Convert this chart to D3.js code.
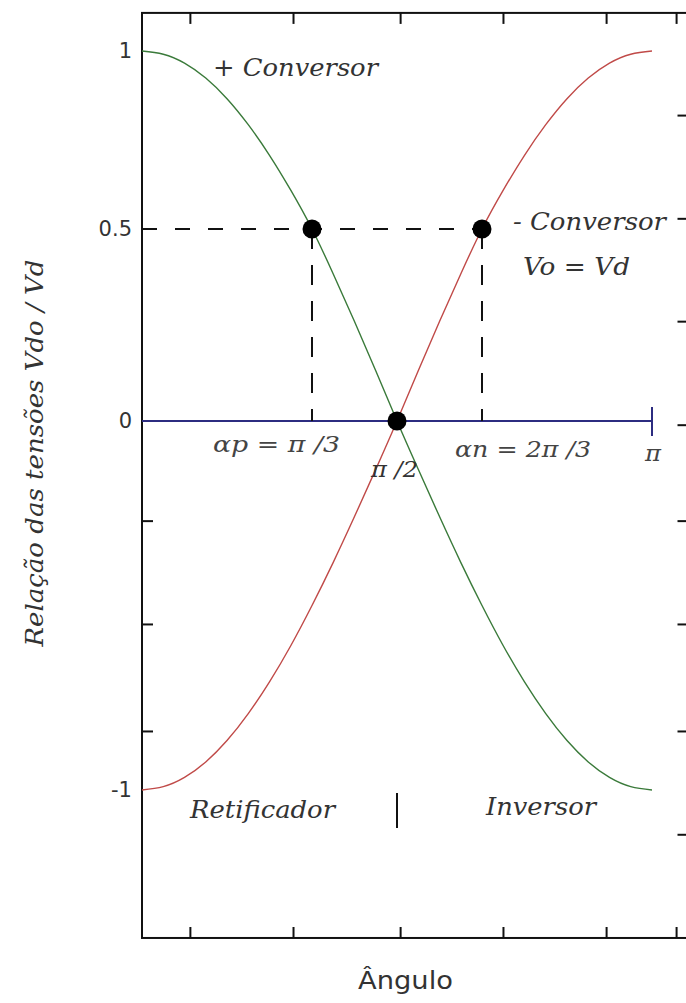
<!DOCTYPE html>
<html>
<head>
<meta charset="utf-8">
<script src="https://cdn.jsdelivr.net/npm/d3@7"></script>
<style>
  html, body { margin: 0; padding: 0; background: #fff; }
  svg { display: block; }
</style>
</head>
<body>
<svg id="chart" width="686" height="1003"></svg>
<script>
// Firing angle samples (degrees, 0..180) and the normalised converter voltages
const angleDeg = [0, 7.5, 15, 22.5, 30, 37.5, 45, 52.5, 60, 67.5, 75, 82.5, 90,
                  97.5, 105, 112.5, 120, 127.5, 135, 142.5, 150, 157.5, 165, 172.5, 180];
const positiveConverter = [1.000, 0.991, 0.966, 0.924, 0.866, 0.793, 0.707, 0.609, 0.500, 0.383, 0.259, 0.131, 0.000,
                           -0.131, -0.259, -0.383, -0.500, -0.609, -0.707, -0.793, -0.866, -0.924, -0.966, -0.991, -1.000];
const negativeConverter = [-1.000, -0.991, -0.966, -0.924, -0.866, -0.793, -0.707, -0.609, -0.500, -0.383, -0.259, -0.131, 0.000,
                           0.131, 0.259, 0.383, 0.500, 0.609, 0.707, 0.793, 0.866, 0.924, 0.966, 0.991, 1.000];

// Operating points: αp, π/2, αn
const pointAngles = [60, 90, 120];
const pointValues = [0.5, 0, 0.5];

// Axis labels and frame ticks
const yTickValues = [1, 0.5, 0, -1];
const yTickLabels = ["1", "0.5", "0", "-1"];
const frameTicksX = [16.9, 53.3, 91.1, 127.4, 163.8, 188.5];
const leftTicksY = [-0.27, -0.55, -0.84];
const rightTicksY = [0.82, 0.53, 0.26, -0.01, -0.27, -0.55, -0.84, -1.12];
const frameX = [0, 195];
const frameY = [1.107, -1.401];

const svg = d3.select("#chart");

const x = d3.scaleLinear().domain([0, 180]).range([142, 652]);
const y = d3.scaleLinear().domain([-1, 0, 0.5, 1]).range([790, 421, 229, 51]);

const frameLeft = x(frameX[0]), frameRight = x(frameX[1]);
const frameTop = y(frameY[0]), frameBottom = y(frameY[1]);

const serif = "'DejaVu Serif', serif";
const sans = "'DejaVu Sans', sans-serif";

// Frame
svg.append("rect")
  .attr("x", frameLeft).attr("y", frameTop)
  .attr("width", frameRight - frameLeft).attr("height", frameBottom - frameTop)
  .attr("fill", "none").attr("stroke", "#111").attr("stroke-width", 2);

function tickAxis(axis, transform) {
  const g = svg.append("g").attr("transform", transform).call(axis);
  g.select(".domain").remove();
  g.selectAll(".tick line").attr("stroke", "#111").attr("stroke-width", 2);
  g.selectAll(".tick text").remove();
  return g;
}
tickAxis(d3.axisBottom(x).tickValues(frameTicksX).tickSize(11).tickSizeOuter(0), `translate(0,${frameTop})`);
tickAxis(d3.axisTop(x).tickValues(frameTicksX).tickSize(11).tickSizeOuter(0), `translate(0,${frameBottom})`);
tickAxis(d3.axisRight(y).tickValues(leftTicksY).tickSize(11).tickSizeOuter(0), `translate(${frameLeft},0)`);
tickAxis(d3.axisLeft(y).tickValues(rightTicksY).tickSize(17).tickSizeOuter(0), `translate(${frameRight},0)`);

// Y tick labels
const yAxis = svg.append("g")
  .attr("transform", `translate(${frameLeft},0)`)
  .call(d3.axisLeft(y).tickValues(yTickValues).tickSize(0).tickPadding(10)
    .tickFormat((d, i) => yTickLabels[i]));
yAxis.select(".domain").remove();
yAxis.selectAll(".tick text")
  .attr("font-family", sans).attr("font-size", 21).attr("fill", "#333");

// Zero line with end bar at π
svg.append("line")
  .attr("x1", x(0)).attr("x2", x(180)).attr("y1", y(0)).attr("y2", y(0))
  .attr("stroke", "#2c2c80").attr("stroke-width", 2);
svg.append("line")
  .attr("x1", x(180)).attr("x2", x(180)).attr("y1", y(0) - 14).attr("y2", y(0) + 15)
  .attr("stroke", "#2c2c80").attr("stroke-width", 2);

// Dashed guides to the operating points
const guides = svg.append("g").attr("stroke", "#111").attr("stroke-width", 2);
guides.append("line")
  .attr("x1", x(0)).attr("x2", x(pointAngles[2]))
  .attr("y1", y(pointValues[0])).attr("y2", y(pointValues[0]))
  .attr("stroke-dasharray", "15,18");
[pointAngles[0], pointAngles[2]].forEach(a => {
  guides.append("line")
    .attr("x1", x(a)).attr("x2", x(a))
    .attr("y1", y(pointValues[0])).attr("y2", y(0))
    .attr("stroke-dasharray", "20,16");
});

// Converter curves
const line = d3.line().curve(d3.curveNatural)
  .x(d => x(d[0])).y(d => y(d[1]));
svg.append("path")
  .datum(angleDeg.map((a, i) => [a, positiveConverter[i]]))
  .attr("d", line).attr("fill", "none")
  .attr("stroke", "#3a7a3a").attr("stroke-width", 1.4);
svg.append("path")
  .datum(angleDeg.map((a, i) => [a, negativeConverter[i]]))
  .attr("d", line).attr("fill", "none")
  .attr("stroke", "#c04a48").attr("stroke-width", 1.4);

// Operating point markers
svg.append("g").selectAll("circle")
  .data(pointAngles.map((a, i) => [a, pointValues[i]]))
  .join("circle")
  .attr("cx", d => x(d[0])).attr("cy", d => y(d[1])).attr("r", 9.5)
  .attr("fill", "#000");

// Rectifier / inverter separator
svg.append("line")
  .attr("x1", x(90)).attr("x2", x(90)).attr("y1", 793).attr("y2", 828)
  .attr("stroke", "#111").attr("stroke-width", 2);

// Annotations
function label(text, px, py, opts = {}) {
  return svg.append("text")
    .attr("x", px).attr("y", py)
    .attr("font-family", opts.family || serif)
    .attr("font-style", opts.style || "italic")
    .attr("font-size", opts.size || 25)
    .attr("fill", opts.fill || "#333")
    .attr("text-anchor", opts.anchor || "start")
    .attr("textLength", opts.len || null)
    .attr("lengthAdjust", "spacingAndGlyphs")
    .text(text);
}
label("+ Conversor", 213, 76, { len: 165 });
label("- Conversor", 513, 230, { len: 153 });
label("Vo = Vd", 523, 275, { len: 107 });
label("αp = π /3", 213, 452, { len: 127, size: 23, fill: "#444" });
label("αn = 2π /3", 455, 457, { len: 136, size: 23, fill: "#444" });
label("π", 645, 461, { len: 16, size: 23, fill: "#444" });
label("π /2", 371, 477, { len: 47, size: 23, fill: "#333" });
label("Retificador", 190, 818, { len: 145 });
label("Inversor", 486, 815, { len: 110 });

// Axis titles
label("Ângulo", 358, 989, { family: sans, style: "normal", size: 25, len: 95 });
svg.append("text")
  .attr("transform", "translate(43,453) rotate(-90)")
  .attr("text-anchor", "middle")
  .attr("font-family", serif).attr("font-style", "italic")
  .attr("font-size", 25).attr("fill", "#333")
  .attr("textLength", 387).attr("lengthAdjust", "spacingAndGlyphs")
  .text("Relação das tensões Vdo / Vd");
</script>
</body>
</html>
